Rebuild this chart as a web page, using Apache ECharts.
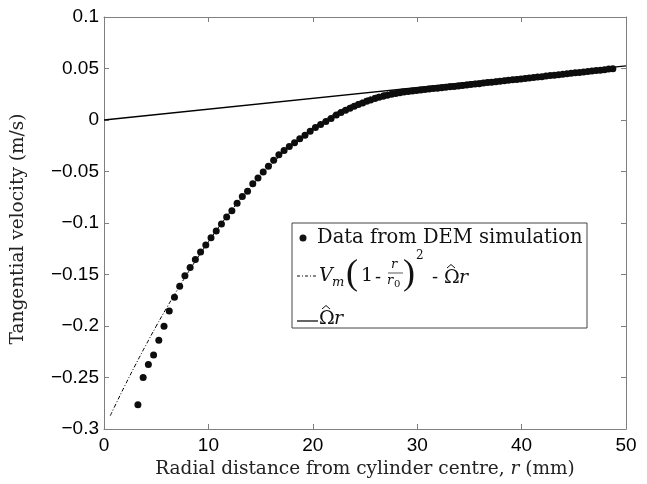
<!DOCTYPE html>
<html>
<head>
<meta charset="utf-8">
<script src="https://cdn.jsdelivr.net/npm/echarts@6/dist/echarts.min.js"></script>
<style>
html,body{margin:0;padding:0;background:#fff;}
#chart{width:647px;height:484px;}
</style>
</head>
<body>
<div id="chart"></div>
<script>
// ---- data ----
const demR = [3.25,3.75,4.25,4.75,5.25,5.75,6.25,6.75,7.25,7.75,8.25,8.75,9.25,9.75,10.25,10.75,11.25,11.75,12.25,12.75,13.25,13.75,14.25,14.75,15.25,15.75,16.25,16.75,17.25,17.75,18.25,18.75,19.25,19.75,20.25,20.75,21.25,21.75,22.25,22.7,23.14,23.56,23.97,24.36,24.77,25.16,25.54,25.95,26.34,26.74,27.14,27.54,27.94,28.34,28.74,29.14,29.54,29.94,30.34,30.74,31.14,31.54,31.94,32.34,32.74,33.14,33.54,33.94,34.34,34.74,35.14,35.54,35.94,36.34,36.74,37.14,37.54,37.94,38.34,38.74,39.14,39.54,39.94,40.34,40.74,41.14,41.54,41.94,42.34,42.74,43.14,43.54,43.94,44.34,44.74,45.14,45.54,45.94,46.34,46.74,47.14,47.54,47.94,48.34,48.74];
const demV = [-0.2765,-0.2500,-0.2373,-0.2282,-0.2139,-0.2003,-0.1854,-0.1721,-0.1614,-0.1513,-0.1432,-0.1354,-0.1282,-0.1214,-0.1143,-0.1078,-0.1010,-0.0941,-0.0880,-0.0808,-0.0743,-0.0692,-0.0620,-0.0562,-0.0506,-0.0448,-0.0390,-0.0338,-0.0296,-0.0258,-0.0220,-0.0182,-0.0149,-0.0109,-0.0073,-0.0043,-0.0014,0.0015,0.0048,0.0072,0.0094,0.0114,0.0133,0.0150,0.0166,0.0181,0.0195,0.0208,0.0220,0.0231,0.0241,0.0250,0.0258,0.0265,0.0271,0.0277,0.0282,0.0287,0.0292,0.0296,0.0301,0.0305,0.0309,0.0314,0.0318,0.0322,0.0326,0.0330,0.0336,0.0340,0.0345,0.0349,0.0353,0.0359,0.0363,0.0367,0.0372,0.0376,0.0381,0.0386,0.0390,0.0394,0.0399,0.0404,0.0408,0.0413,0.0417,0.0421,0.0427,0.0431,0.0435,0.0440,0.0444,0.0449,0.0454,0.0458,0.0462,0.0466,0.0472,0.0476,0.0480,0.0484,0.0489,0.0494,0.0498];
const modelR = [0.6,1,2,3,4,5,6,7,8,9,10,11,12,13,14,15,16,17,18,19,20,21,22,23,24,25,26,27,28,29];
const modelV = [-0.2871,-0.2786,-0.2579,-0.2380,-0.2188,-0.2002,-0.1824,-0.1653,-0.1489,-0.1332,-0.1183,-0.1040,-0.0905,-0.0777,-0.0656,-0.0542,-0.0435,-0.0335,-0.0243,-0.0157,-0.0079,-0.0008,0.0056,0.0113,0.0163,0.0205,0.0241,0.0269,0.0290,0.0305];
const lineR = [0, 50];
const lineV = [0, 0.0525];
const xTicks = {min: 0, max: 50, interval: 10};
const yTicks = {min: -0.3, max: 0.1, interval: 0.05};
const legendLabels = ['Data from DEM simulation'];

const zip = (a, b) => a.map((v, i) => [v, b[i]]);

const chart = echarts.init(document.getElementById('chart'), null, {renderer: 'canvas'});
const axisGray = '#7f7f7f';
const tickFont = 'Liberation Sans';
const serif = 'DejaVu Serif';
const minus = v => String(v).replace('-', '\u2212');
const ink = '#111';

const baseX = {
  type: 'value', min: xTicks.min, max: xTicks.max, interval: xTicks.interval,
  axisLine: {show: true, onZero: false, lineStyle: {color: axisGray, width: 1}},
  axisTick: {show: true, inside: true, length: 5, lineStyle: {color: axisGray}},
  splitLine: {show: false}
};
const baseY = {
  type: 'value', min: yTicks.min, max: yTicks.max, interval: yTicks.interval,
  axisLine: {show: true, onZero: false, lineStyle: {color: axisGray, width: 1}},
  axisTick: {show: true, inside: true, length: 5, lineStyle: {color: axisGray}},
  splitLine: {show: false}
};

function txt(x, y, text, size, opts) {
  return {type: 'text', x: x, y: y, z: 11,
    style: Object.assign({text: text, fontFamily: serif, fontSize: size, fill: ink, verticalAlign: 'middle'}, opts || {})};
}
function hat(cx, cy) {
  return {type: 'polyline', z: 11, shape: {points: [[cx - 4, cy + 2], [cx, cy - 1.5], [cx + 4, cy + 2]]},
    style: {stroke: ink, lineWidth: 1, fill: null}};
}
const ital = {fontStyle: 'italic'};

const option = {
  animation: false,
  backgroundColor: '#fff',
  grid: {left: 104, right: 21, top: 17, bottom: 55, containLabel: false},
  xAxis: [
    Object.assign({}, baseX, {
      position: 'bottom',
      axisLabel: {color: '#000', fontFamily: tickFont, fontSize: 19, margin: 7, formatter: minus},
      name: 'Radial distance from cylinder centre, {i|r} (mm)',
      nameLocation: 'middle', nameGap: 29,
      nameTextStyle: {color: '#222', fontFamily: serif, fontSize: 18.5,
        rich: {i: {fontFamily: serif, fontStyle: 'italic', fontSize: 18.5, color: '#222'}}}
    }),
    Object.assign({}, baseX, {position: 'top', axisLabel: {show: false}})
  ],
  yAxis: [
    Object.assign({}, baseY, {
      position: 'left',
      axisLabel: {color: '#000', fontFamily: tickFont, fontSize: 19, margin: 5, formatter: minus},
      name: 'Tangential velocity (m/s)',
      nameLocation: 'middle', nameGap: 76,
      nameTextStyle: {color: '#222', fontFamily: serif, fontSize: 18.5, padding: [0, 12, 0, 0]}
    }),
    Object.assign({}, baseY, {position: 'right', axisLabel: {show: false}})
  ],
  series: [
    {
      name: 'line', type: 'line', data: zip(lineR, lineV), showSymbol: false, symbol: 'none',
      lineStyle: {color: '#000', width: 1.3}, z: 2
    },
    {
      name: 'model', type: 'line', data: zip(modelR, modelV), showSymbol: false, symbol: 'none', smooth: true,
      lineStyle: {color: '#000', width: 1, type: [4, 2, 1, 2]}, z: 3
    },
    {
      name: legendLabels[0], type: 'scatter', data: zip(demR, demV), symbol: 'circle', symbolSize: 7,
      itemStyle: {color: '#0d0d0d', opacity: 1}, z: 4
    }
  ],
  graphic: [
    {type: 'rect', shape: {x: 292, y: 223, width: 295, height: 105}, style: {fill: '#fff', stroke: '#444', lineWidth: 1}, z: 10},
    {type: 'circle', shape: {cx: 303, cy: 238, r: 3.5}, style: {fill: ink}, z: 11},
    txt(317, 238, legendLabels[0], 19.5),
    // formula row
    {type: 'line', shape: {x1: 297, y1: 276, x2: 318, y2: 276}, style: {stroke: ink, lineWidth: 1, lineDash: [3, 2, 1, 2]}, z: 11},
    txt(319, 276, 'V', 19, ital),
    txt(332, 283, 'm', 13, ital),
    txt(346, 275, '(', 36, {fontFamily: 'Liberation Serif'}),
    txt(361, 276, '1', 19),
    txt(375, 278, '-', 18),
    txt(391, 265, 'r', 13, ital),
    {type: 'line', shape: {x1: 388, y1: 273, x2: 403, y2: 273}, style: {stroke: ink, lineWidth: 0.7}, z: 11},
    txt(387, 281, 'r', 13, ital),
    txt(394, 284, '0', 10),
    txt(403, 275, ')', 36, {fontFamily: 'Liberation Serif'}),
    txt(416, 256, '2', 12),
    txt(432, 278, '-', 18),
    txt(444, 278, '\u03A9', 19),
    hat(451, 266),
    txt(459, 278, 'r', 19, ital),
    // line row
    {type: 'line', shape: {x1: 297, y1: 321, x2: 318, y2: 321}, style: {stroke: ink, lineWidth: 1.3}, z: 11},
    txt(319, 319, '\u03A9', 19),
    hat(326, 307),
    txt(334, 319, 'r', 19, ital)
  ]
};
chart.setOption(option);
</script>
</body>
</html>
